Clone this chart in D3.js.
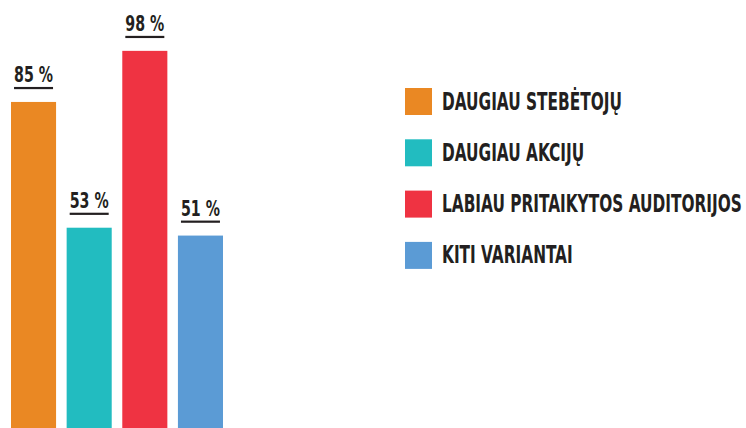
<!DOCTYPE html>
<html>
<head>
<meta charset="utf-8">
<script src="https://cdn.jsdelivr.net/npm/d3@7"></script>
<style>
  body { margin: 0; background: #fff; }
  svg { display: block; }
  text { font-family: "DejaVu Sans Condensed", "DejaVu Sans", sans-serif; font-weight: bold; fill: #231f20; }
</style>
</head>
<body>
<div id="chart"></div>
<script>
// data
const categories = ["DAUGIAU STEBĖTOJŲ", "DAUGIAU AKCIJŲ", "LABIAU PRITAIKYTOS AUDITORIJOS", "KITI VARIANTAI"];
const values = [85, 53, 98, 51];
const colors = ["#ea8823", "#22bcc0", "#ef3342", "#5b9bd5"];

const width = 746, height = 428;

const svg = d3.select("#chart")
  .append("svg")
    .attr("width", width)
    .attr("height", height);

// scales
const x = d3.scaleBand()
  .domain(categories)
  .range([11, 223])
  .paddingInner(0.19)
  .paddingOuter(0);

const y = d3.scaleLinear()
  .domain([0, 100])
  .range([436, 43]);

const color = d3.scaleOrdinal()
  .domain(categories)
  .range(colors);

// bars
svg.append("g")
  .selectAll("rect")
  .data(categories)
  .join("rect")
    .attr("x", d => x(d))
    .attr("y", (d, i) => y(values[i]))
    .attr("width", x.bandwidth())
    .attr("height", (d, i) => y(0) - y(values[i]))
    .attr("fill", d => color(d));

// value labels with underline
const lab = svg.append("g")
  .selectAll("g")
  .data(categories)
  .join("g")
    .attr("transform", (d, i) => `translate(${x(d) + x.bandwidth() / 2},${y(values[i])})`);

const valText = lab.append("text")
  .attr("text-anchor", "middle")
  .style("font-size", "22px")
  .text((d, i) => values[i] + " %");

// squeeze to a condensed look (~39px wide)
const vf = 39 / valText.node().getComputedTextLength();
valText.attr("transform", `translate(0,-20) scale(${vf},1)`);

lab.append("rect")
  .attr("x", -19.5)
  .attr("y", -15)
  .attr("width", 39)
  .attr("height", 2.2)
  .attr("fill", "#231f20");

// legend
const legend = svg.append("g")
  .attr("transform", "translate(405,88)");

const item = legend.selectAll("g")
  .data(categories)
  .join("g")
    .attr("transform", (d, i) => `translate(0,${i * 51.3})`);

item.append("rect")
  .attr("width", 27)
  .attr("height", 27)
  .attr("fill", d => color(d));

const legText = item.append("text")
  .style("font-size", "25px")
  .text(d => d);

// longest label should span about 300px
const lf = 300 / d3.max(legText.nodes(), n => n.getComputedTextLength());
legText.attr("transform", `translate(37,21.5) scale(${lf},1)`);
</script>
</body>
</html>
